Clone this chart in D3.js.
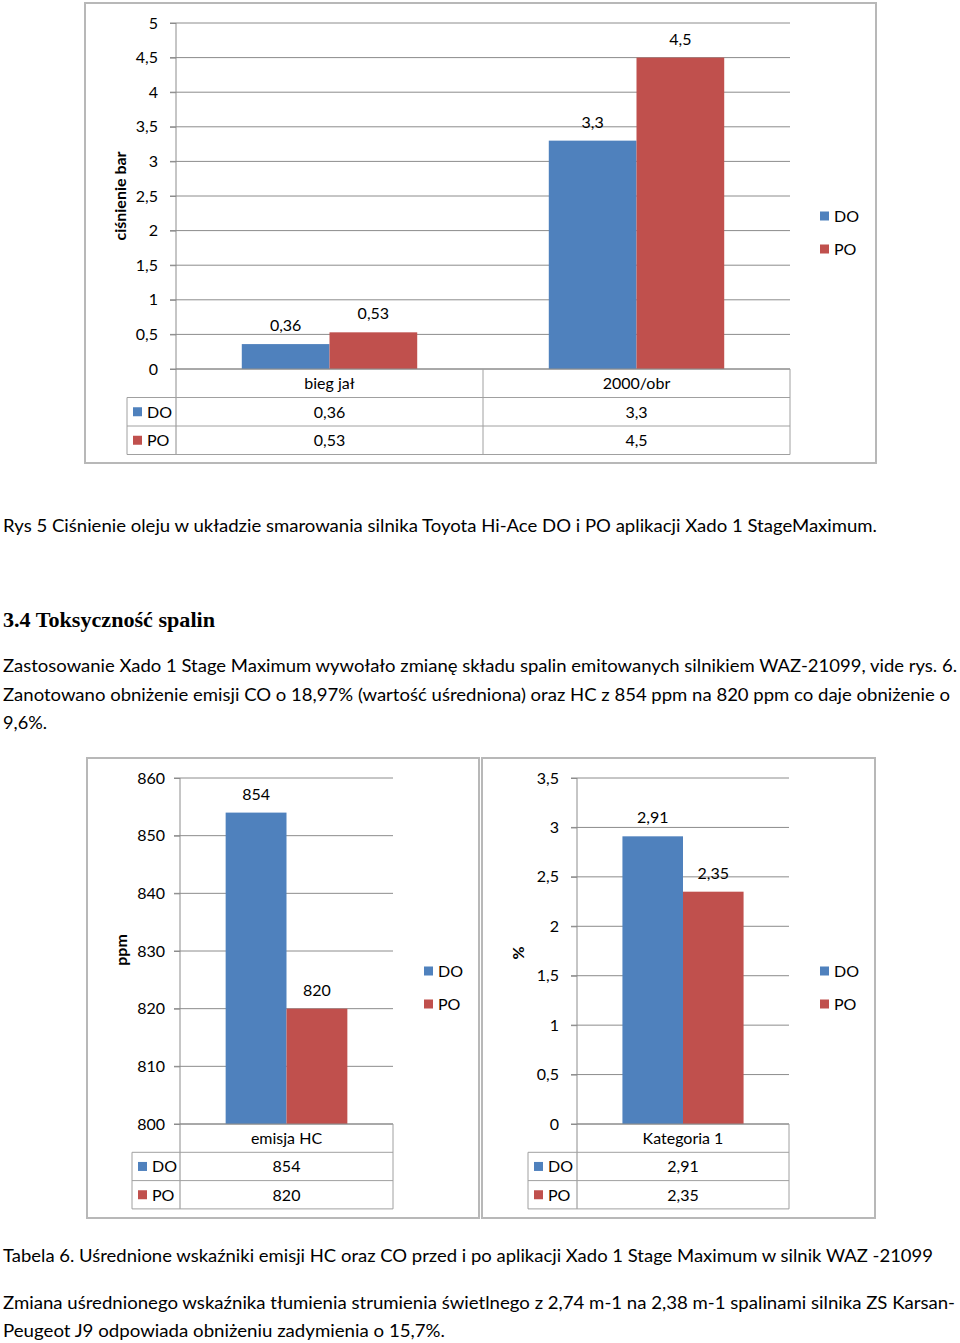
<!DOCTYPE html>
<html><head><meta charset="utf-8">
<script src="https://cdn.jsdelivr.net/npm/d3@7"></script>
<style>
body{margin:0;background:#fff;}
svg{display:block;font-family:Lato,"Noto Sans",sans-serif;}
text{fill:#000;}
</style></head>
<body>
<svg id="c" width="960" height="1343"></svg>
<script>
// ---------- DATA ----------
const seriesNames = ["DO", "PO"];
const seriesColors = ["#4F81BD", "#C0504D"];

const chart1Categories = ["bieg jał", "2000/obr"];
const chart1DO = [0.36, 3.3];
const chart1PO = [0.53, 4.5];
const chart1Ticks = [0, 0.5, 1, 1.5, 2, 2.5, 3, 3.5, 4, 4.5, 5];
const chart1Title = "ciśnienie bar";

const chart2Categories = ["emisja HC"];
const chart2DO = [854];
const chart2PO = [820];
const chart2Ticks = [800, 810, 820, 830, 840, 850, 860];
const chart2Title = "ppm";

const chart3Categories = ["Kategoria 1"];
const chart3DO = [2.91];
const chart3PO = [2.35];
const chart3Ticks = [0, 0.5, 1, 1.5, 2, 2.5, 3, 3.5];
const chart3Title = "%";

const textLines = [
  "Rys 5 Ciśnienie oleju w układzie smarowania silnika Toyota Hi-Ace DO i PO aplikacji Xado 1 StageMaximum.",
  "Zastosowanie Xado 1 Stage Maximum wywołało zmianę składu spalin emitowanych silnikiem WAZ-21099, vide rys. 6.",
  "Zanotowano obniżenie emisji CO o 18,97% (wartość uśredniona) oraz HC z 854 ppm na 820 ppm co daje obniżenie o",
  "9,6%.",
  "Tabela 6. Uśrednione wskaźniki emisji HC oraz CO przed i po aplikacji Xado 1 Stage Maximum w silnik WAZ -21099",
  "Zmiana uśrednionego wskaźnika tłumienia strumienia świetlnego z 2,74 m-1 na 2,38 m-1 spalinami silnika ZS Karsan-",
  "Peugeot J9 odpowiada obniżeniu zadymienia o 15,7%."
];
const heading = "3.4 Toksyczność spalin";

// ---------- RENDER ----------
const svg = d3.select("#c");
const loc = d3.formatLocale({decimal: ",", thousands: " ", grouping: [3], currency: ["", ""]});
const fmt = v => loc.format("~g")(v);

function drawChart(o) {
  const g = svg.append("g");
  g.append("rect").attr("x", o.frame[0]).attr("y", o.frame[1])
    .attr("width", o.frame[2] - o.frame[0]).attr("height", o.frame[3] - o.frame[1])
    .attr("fill", "#fff").attr("stroke", "#b8b8b8").attr("stroke-width", 2);

  const y = d3.scaleLinear().domain(o.domain).range([o.yBottom, o.yTop]);
  const x = d3.scaleBand().domain(o.categories).range([o.axisX, o.right]).paddingInner(0).paddingOuter(0);
  const xs = d3.scaleBand().domain(seriesNames).range([0, x.bandwidth()]).paddingInner(0).paddingOuter(0.75);

  g.append("g").selectAll("line").data(o.ticks).join("line")
    .attr("x1", o.axisX - 6).attr("x2", o.right)
    .attr("y1", d => y(d)).attr("y2", d => y(d))
    .attr("stroke", "#8c8c8c").attr("stroke-width", 1);

  const ax = g.append("g").attr("transform", `translate(${o.axisX},0)`)
    .call(d3.axisLeft(y).tickValues(o.ticks).tickFormat(fmt).tickSize(6).tickPadding(o.tickPad));
  ax.select(".domain").remove();
  ax.selectAll(".tick line").attr("stroke", "#8c8c8c");
  ax.selectAll("text").attr("font-size", 16).style("font-family", "Lato, sans-serif").attr("fill", "#000");

  const vals = [o.DO, o.PO];
  seriesNames.forEach((s, si) => {
    g.append("g").selectAll("rect").data(o.categories).join("rect")
      .attr("x", c => x(c) + xs(s))
      .attr("width", xs.bandwidth())
      .attr("y", (c, i) => y(vals[si][i]))
      .attr("height", (c, i) => y(o.domain[0]) - y(vals[si][i]))
      .attr("fill", seriesColors[si]);
    g.append("g").selectAll("text").data(o.categories).join("text")
      .attr("x", c => x(c) + xs(s) + xs.bandwidth() / 2)
      .attr("y", (c, i) => y(vals[si][i]) - 13)
      .attr("text-anchor", "middle").attr("font-size", 16)
      .text((c, i) => fmt(vals[si][i]));
  });

  const rowH = o.rowH;
  const tableBottom = o.yBottom + rowH * 3;
  g.append("line").attr("x1", o.axisX).attr("x2", o.axisX)
    .attr("y1", o.yTop).attr("y2", tableBottom).attr("stroke", "#8c8c8c");
  g.append("line").attr("x1", o.axisX).attr("x2", o.right)
    .attr("y1", o.yBottom).attr("y2", o.yBottom).attr("stroke", "#8c8c8c");

  const tg = g.append("g").attr("stroke", "#a0a0a0").attr("fill", "none");
  tg.append("line").attr("x1", o.right).attr("x2", o.right).attr("y1", o.yBottom).attr("y2", tableBottom);
  o.categories.forEach((c, i) => {
    if (i > 0) tg.append("line").attr("x1", x(c)).attr("x2", x(c)).attr("y1", o.yBottom).attr("y2", tableBottom);
  });
  tg.append("line").attr("x1", o.tableLeft).attr("x2", o.tableLeft).attr("y1", o.yBottom + rowH).attr("y2", tableBottom);
  [1, 2, 3].forEach(r => tg.append("line").attr("x1", o.tableLeft).attr("x2", o.right)
    .attr("y1", o.yBottom + rowH * r).attr("y2", o.yBottom + rowH * r));

  g.append("g").selectAll("text").data(o.categories).join("text")
    .attr("x", c => x(c) + x.bandwidth() / 2).attr("y", o.yBottom + rowH / 2 + 6)
    .attr("text-anchor", "middle").attr("font-size", 16).text(c => c);
  seriesNames.forEach((s, si) => {
    const cy = o.yBottom + rowH * (si + 1) + rowH / 2;
    g.append("rect").attr("x", o.tableLeft + 6).attr("y", cy - 4.5).attr("width", 9).attr("height", 9).attr("fill", seriesColors[si]);
    g.append("text").attr("x", o.tableLeft + 20).attr("y", cy + 6).attr("font-size", 16).text(s);
    g.append("g").selectAll("text").data(o.categories).join("text")
      .attr("x", c => x(c) + x.bandwidth() / 2).attr("y", cy + 6)
      .attr("text-anchor", "middle").attr("font-size", 16).text((c, i) => fmt(vals[si][i]));
  });

  seriesNames.forEach((s, si) => {
    const cy = o.legendY[si];
    g.append("rect").attr("x", o.legendX).attr("y", cy - 4.5).attr("width", 9).attr("height", 9).attr("fill", seriesColors[si]);
    g.append("text").attr("x", o.legendX + 14).attr("y", cy + 6).attr("font-size", 16).text(s);
  });

  g.append("text").attr("transform", `translate(${o.titleX + 6},${o.titleY}) rotate(-90)`)
    .attr("text-anchor", "middle").attr("font-size", 16).attr("font-weight", "bold").text(o.title);
}

drawChart({
  frame: [85, 3, 876, 463], categories: chart1Categories, DO: chart1DO, PO: chart1PO,
  domain: [0, 5], ticks: chart1Ticks, yTop: 23, yBottom: 369, axisX: 176, right: 790,
  tickPad: 12, rowH: 28.5, tableLeft: 127, legendX: 820, legendY: [216, 249],
  title: chart1Title, titleX: 120, titleY: 196
});
drawChart({
  frame: [87, 758, 479, 1218], categories: chart2Categories, DO: chart2DO, PO: chart2PO,
  domain: [800, 860], ticks: chart2Ticks, yTop: 778, yBottom: 1124, axisX: 180, right: 393,
  tickPad: 9, rowH: 28.3, tableLeft: 132, legendX: 424, legendY: [971, 1004],
  title: chart2Title, titleX: 121, titleY: 950
});
drawChart({
  frame: [482, 758, 875, 1218], categories: chart3Categories, DO: chart3DO, PO: chart3PO,
  domain: [0, 3.5], ticks: chart3Ticks, yTop: 778, yBottom: 1124, axisX: 577, right: 789,
  tickPad: 12, rowH: 28.3, tableLeft: 528, legendX: 820, legendY: [971, 1004],
  title: chart3Title, titleX: 518, titleY: 953
});

const lineSpecs = [
  [532, 874], [672, 954], [701, 947], [729, 44], [1262, 930], [1309, 952], [1337, 442]
];
textLines.forEach((t, i) => {
  svg.append("text").attr("x", 3).attr("y", lineSpecs[i][0])
    .attr("font-size", 17)
    .attr("textLength", lineSpecs[i][1]).attr("lengthAdjust", "spacingAndGlyphs").text(t);
});
svg.append("text").attr("x", 3).attr("y", 627)
  .style("font-family", "'Liberation Serif', 'DejaVu Serif', serif").attr("font-weight", "bold").attr("font-size", 21)
  .attr("textLength", 212).attr("lengthAdjust", "spacingAndGlyphs").text(heading);
</script>
</body></html>
